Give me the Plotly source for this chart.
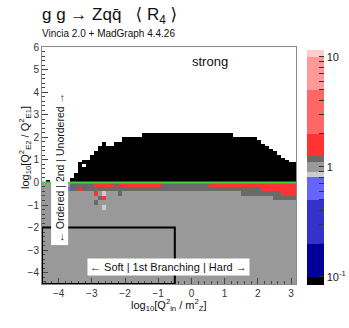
#!/usr/bin/env python3
"""
Vincia 2.0 + MadGraph: ratio R4 for gg -> Z q qbar, second vs first branching.
"""

import numpy as np
import plotly.graph_objects as go

# ---- data ------------------------------------------------------------------
# x binning: 64 columns of 0.12 starting at -4.5  (log10[Qin^2/mZ^2])
x_start = -4.5
x_step = 0.12
n_cols = 64

# top of the black ("unordered", R4 < 0.1) region for each column, log10 units
black_top = [
    None, 0.1, None, None, None, None, None, 0.3, 0.5, 0.9,
    1.0, 1.0, 1.2, 1.4, 1.6, 1.8, 1.6, 1.6, 1.8, 1.8,
    2.0, 2.0, 2.0, 2.0, 2.0, 2.2, 2.2, 2.2, 2.2, 2.2,
    2.2, 2.2, 2.2, 2.2, 2.2, 2.2, 2.2, 2.2, 2.2, 2.2,
    2.2, 2.2, 2.2, 2.2, 2.2, 2.2, 2.2, 2.2, 2.0, 2.0,
    2.0, 2.0, 2.0, 2.0, 1.9, 1.7, 1.6, 1.5, 1.4, 1.2,
    1.1, 1.0, 0.9, 0.9,
]
black_value = 0.09

# empty cells inside the black staircase (x, y)
holes_x = [-3.54, -3.42, -3.42, -3.30]
holes_y = [0.25, 0.45, 0.65, 0.75]

# rows just below the ordering line (0.2 high each), one value per column
band_0 = ([1.0] * 7 + [1.15] * 6 + [1.5] * 5 + [1.15] + [1.5] * 11
          + [1.15] * 12 + [1.5] * 22)
band_1 = [1.0] * 7 + [1.15] * 2 + [1.5] + [1.15] * 45 + [1.5] * 9
band_2 = [1.0] * 50 + [1.15] * 10 + [1.5] * 4
band_3 = [1.0] * 58 + [1.15] * 6
bands_y = [-0.1, -0.3, -0.5, -0.7]
ordered_value = 1.0

# isolated cells in the ordered region
spots_x = [-3.66, -2.88, -2.64, -2.16, -2.76, -2.64, -2.88, -2.64]
spots_y = [-0.3, -0.5, -0.5, -0.5, -0.7, -0.7, -0.9, -1.1]
spots_v = [0.6, 1.5, 0.85, 1.15, 1.15, 1.5, 1.15, 0.85]

# colour classes of the palette (R4 boundaries and colours)
class_bounds = [0.084, 0.1, 0.2, 0.5, 0.8, 0.9, 1.1, 1.25, 2.0, 5.0, 10.0, 11.5]
class_colors = ["#000000", "#000099", "#3333cc", "#6666ff", "#cccccc",
                "#999999", "#6a6a6a", "#ff3333", "#ff6666", "#ff9999",
                "#ffcccc"]

# ---- geometry --------------------------------------------------------------
W, H = 349, 328
PL, PR, PT, PB = 42, 296, 47, 284


def px_x(px):
    return (px - PL) / (PR - PL)


def px_y(py):
    return (PB - py) / (PB - PT)


def build_grid():
    x_edges = x_start + x_step * np.arange(n_cols + 1)
    y_edges = np.concatenate([np.linspace(-4.6, 0.0, 24)[:-1],
                              np.linspace(0.0, 6.0, 61)])
    y_mid = 0.5 * (y_edges[:-1] + y_edges[1:])
    x_mid = 0.5 * (x_edges[:-1] + x_edges[1:])

    z = np.full((len(y_mid), n_cols), np.nan)
    z[y_mid < 0, :] = ordered_value

    for j, top in enumerate(black_top):
        if top is None:
            continue
        z[(y_mid > 0) & (y_mid < top), j] = black_value

    for yb, band in zip(bands_y, [band_0, band_1, band_2, band_3]):
        i = np.argmin(np.abs(y_mid - yb))
        z[i, :] = band

    for hx, hy in zip(holes_x, holes_y):
        z[np.argmin(np.abs(y_mid - hy)), np.argmin(np.abs(x_mid - hx))] = np.nan

    for sx, sy, sv in zip(spots_x, spots_y, spots_v):
        z[np.argmin(np.abs(y_mid - sy)), np.argmin(np.abs(x_mid - sx))] = sv

    return x_edges, y_edges, np.log10(z)


def discrete_scale():
    lb = np.log10(class_bounds)
    lo, hi = lb[0], lb[-1]
    scale = []
    for k, c in enumerate(class_colors):
        scale.append([(lb[k] - lo) / (hi - lo), c])
        scale.append([(lb[k + 1] - lo) / (hi - lo), c])
    return scale, lo, hi


def create_chart():
    x_edges, y_edges, zlog = build_grid()
    scale, zmin, zmax = discrete_scale()

    majors = [-1, 0, 1]
    minors = [np.log10(m * d) for d in (0.1, 1.0) for m in range(2, 10)]
    tickvals = majors + minors
    ticktext = ["10<sup>-1</sup>", "1", "10"] + [""] * len(minors)

    fig = go.Figure()
    fig.add_trace(go.Heatmap(
        x=x_edges, y=y_edges, z=zlog,
        colorscale=scale, zmin=zmin, zmax=zmax, zsmooth=False,
        hoverongaps=False,
        colorbar=dict(
            x=px_x(307), xanchor="left", xpad=0,
            y=px_y(167.5), yanchor="middle", ypad=0,
            len=235 / (PB - PT), thickness=17, outlinewidth=0,
            tickvals=tickvals, ticktext=ticktext,
            ticks="inside", ticklen=5, tickcolor="#333",
            tickfont=dict(size=11, color="#222"),
        ),
    ))

    font = "Liberation Sans, Arial, DejaVu Sans, sans-serif"
    axis = dict(showgrid=False, zeroline=False, showline=True, mirror=True,
                linecolor="#8a8a8a", linewidth=1, ticks="inside",
                ticklen=6, tickcolor="#444", dtick=1, automargin=False,
                tickfont=dict(size=10, color="#333"))

    fig.update_layout(
        width=W, height=H,
        margin=dict(l=PL, r=W - PR, t=PT, b=H - PB, autoexpand=False),
        paper_bgcolor="white", plot_bgcolor="white",
        font=dict(family=font, color="#222"),
        xaxis=dict(axis, range=[-4.5, 3.15], tick0=-4,
                   minor=dict(ticks="inside", ticklen=3, dtick=0.2,
                              tickcolor="#444")),
        yaxis=dict(axis, range=[-4.5, 6.0], tick0=0,
                   minor=dict(ticks="inside", ticklen=3, dtick=0.2,
                              tickcolor="#444")),
        showlegend=False,
    )

    # ordering line and the soft/ordered corner
    fig.add_shape(type="line", xref="paper", x0=0, x1=1, yref="y", y0=0, y1=0,
                  line=dict(color="#3fcf3f", width=2))
    fig.add_shape(type="rect", x0=-4.5, x1=-0.5, y0=-4.5, y1=-2.0,
                  line=dict(color="black", width=2))

    fig.add_annotation(text="g g \u2192 Zqq\u0304   \u27e8 R<sub>4</sub> \u27e9",
                       xref="paper", yref="paper", x=px_x(40), y=px_y(16),
                       xanchor="left", yanchor="middle", showarrow=False,
                       font=dict(size=17, color="#111"))
    fig.add_annotation(text="Vincia 2.0 + MadGraph 4.4.26",
                       xref="paper", yref="paper", x=px_x(40), y=px_y(33),
                       xanchor="left", yanchor="middle", showarrow=False,
                       font=dict(size=10, color="#111"))
    fig.add_annotation(text="strong", x=0.55, y=5.35, showarrow=False,
                       font=dict(size=13, color="#111"))
    fig.add_annotation(text="\u2190 Ordered | 2nd | Unordered \u2192",
                       x=-3.97, y=0.64, textangle=-90, showarrow=False,
                       bgcolor="white", borderpad=2,
                       font=dict(size=10.5, color="#111"))
    fig.add_annotation(text="\u2190 Soft | 1st Branching | Hard \u2192",
                       x=-0.68, y=-3.76, showarrow=False,
                       bgcolor="white", borderpad=2,
                       font=dict(size=11, color="#111"))

    fig.add_annotation(text="log<sub>10</sub>[Q<sup>2</sup><sub>in</sub> / m<sup>2</sup><sub>Z</sub>]",
                       xref="paper", yref="paper", x=0.5, y=px_y(315),
                       showarrow=False, font=dict(size=11, color="#111"))
    fig.add_annotation(text="log<sub>10</sub>[Q<sup>2</sup><sub>E2</sub> / Q<sup>2</sup><sub>E1</sub>]",
                       xref="paper", yref="paper", x=px_x(15), y=px_y(148),
                       textangle=-90, showarrow=False,
                       font=dict(size=11, color="#111"))
    return fig


def main():
    fig = create_chart()
    # the page's default body margin would shift the figure by 8px
    fig.write_html("out.html", config={"displayModeBar": False},
                   post_script="document.body.style.margin = '0';")
    return 0


if __name__ == "__main__":
    import sys
    sys.exit(main())
